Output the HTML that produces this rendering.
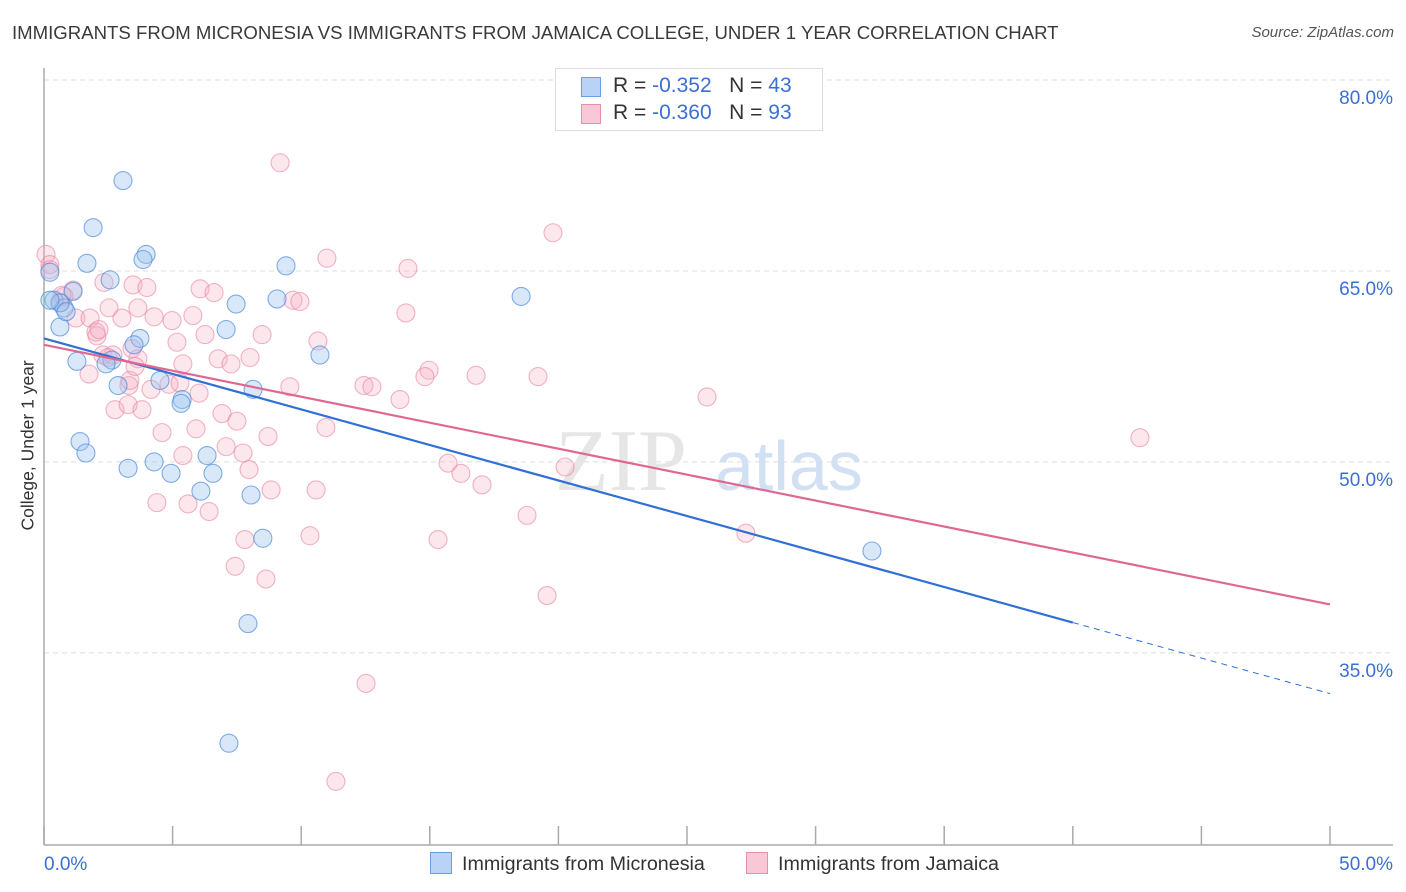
<!DOCTYPE html>
<html><head><meta charset="utf-8">
<style>
body{margin:0;background:#fff;font-family:"Liberation Sans",sans-serif;}
#wrap{position:relative;width:1406px;height:892px;overflow:hidden;}
.t{position:absolute;white-space:nowrap;}
</style></head><body>
<div id="wrap">
<div class="t" style="left:12px;top:22px;font-size:18.6px;color:#3a3a3a;">IMMIGRANTS FROM MICRONESIA VS IMMIGRANTS FROM JAMAICA COLLEGE, UNDER 1 YEAR CORRELATION CHART</div>
<div class="t" style="right:12px;top:24px;font-size:15px;color:#555;font-style:italic;">Source: ZipAtlas.com</div>
<div class="t" style="left:-47px;top:445px;font-size:17.5px;color:#333;transform:rotate(-90deg);transform-origin:center;width:150px;text-align:center;">College, Under 1 year</div>
<svg id="plot" width="1406" height="892" style="position:absolute;left:0;top:0"></svg>
</div>
<script>
const blueX=[3.07,1.91,3.97,3.85,1.67,2.57,9.41,0.23,0.39,1.13,0.78,9.06,7.47,18.55,0.62,7.08,3.73,3.50,2.64,1.28,2.41,10.73,2.88,4.51,8.13,5.37,5.33,1.40,1.63,3.27,4.28,4.94,6.34,6.57,6.10,8.05,8.51,32.19,7.93,7.19,0.62,0.86,0.23];
const blueY=[72.1,68.4,66.3,65.9,65.6,64.3,65.4,64.9,62.7,63.4,62.1,62.8,62.4,63.0,60.6,60.4,59.7,59.2,58.0,57.9,57.7,58.4,56.0,56.4,55.7,54.9,54.6,51.6,50.7,49.5,50.0,49.1,50.5,49.1,47.7,47.4,44.0,43.0,37.3,27.9,62.5,61.8,62.7];
const pinkX=[9.18,19.79,0.08,0.23,11.00,14.15,6.07,6.61,2.33,3.46,4.00,1.13,0.78,9.68,9.95,0.66,2.53,3.65,14.07,1.24,1.79,3.03,4.28,4.98,5.79,2.02,2.06,6.26,8.48,5.17,10.65,3.42,2.29,3.65,8.01,5.40,6.77,7.27,1.75,14.97,14.81,16.80,19.21,3.30,4.16,9.56,12.44,12.75,13.84,6.03,4.86,2.76,3.27,3.81,6.92,7.50,5.91,4.59,8.71,10.96,7.08,7.74,15.71,7.97,16.21,17.03,20.26,8.83,10.58,4.39,5.60,6.42,18.78,10.34,7.81,15.32,27.29,7.43,8.63,19.56,12.52,11.35,42.61,25.78,0.23,2.68,5.40,2.14,5.29,0.70,3.34,2.49,3.54];
const pinkY=[73.5,68.0,66.3,65.5,66.0,65.2,63.6,63.3,64.1,63.9,63.7,63.5,63.0,62.7,62.6,62.5,62.1,62.1,61.7,61.3,61.3,61.3,61.4,61.1,61.5,60.2,59.9,60.0,60.0,59.4,59.5,58.9,58.4,58.1,58.2,57.7,58.1,57.7,56.9,57.2,56.7,56.8,56.7,56.0,55.7,55.9,56.0,55.9,54.9,55.4,56.1,54.1,54.5,54.1,53.8,53.2,52.6,52.3,52.0,52.7,51.2,50.7,49.9,49.4,49.1,48.2,49.6,47.8,47.8,46.8,46.7,46.1,45.8,44.2,43.9,43.9,44.4,41.8,40.8,39.5,32.6,24.9,51.9,55.1,65.1,58.4,50.5,60.4,56.2,63.1,56.4,58.2,57.5];
const blueTrend=[59.7,31.8];
const pinkTrend=[59.2,38.8];
const blueSolidEnd=40;
const yTicks=[80,65,50,35];
const xTicks=[0,5,10,15,20,25,30,35,40,45,50];

const NS="http://www.w3.org/2000/svg";
const svg=document.getElementById('plot');
const X0=44,X1=1330;
const sx=v=>X0+(v/50)*(X1-X0);
const sy=v=>80+(80-v)*12.73;
function mk(tag,attrs){const e=document.createElementNS(NS,tag);for(const k in attrs)e.setAttribute(k,attrs[k]);svg.appendChild(e);return e;}

yTicks.forEach(t=>{
  const l=mk('line',{x1:X0,x2:1393,y1:sy(t),y2:sy(t),stroke:'#ddd','stroke-dasharray':'5,4'});
  
  
  const tx=mk('text',{x:1393,y:sy(t)+24,'text-anchor':'end','font-size':19,fill:'#3b6fd4','font-family':'Liberation Sans, sans-serif'});
  tx.textContent=t.toFixed(1)+'%';
  
  
});
mk('line',{x1:X0,x2:X0,y1:68,y2:845,stroke:'#aaa','stroke-width':1.5});
mk('line',{x1:X0,x2:1393,y1:845,y2:845,stroke:'#aaa','stroke-width':1.5});
xTicks.forEach(t=>{
  const l=mk('line',{x1:sx(t),x2:sx(t),y1:826,y2:845,stroke:'#aaa','stroke-width':1.5});
  
  
});
[[0,'start'],[50,'end']].forEach(([t,a])=>{
  const tx=mk('text',{x:a==='start'?sx(t):1393,y:870,'text-anchor':a,'font-size':19,fill:'#3b6fd4','font-family':'Liberation Sans, sans-serif'});
  tx.textContent=t.toFixed(1)+'%';
  
  
});
const wm=mk('text',{x:555,y:490,'font-size':88,fill:'#e6e6e6','font-family':'Liberation Serif, serif'});
wm.textContent='ZIP';


const wm2=mk('text',{x:715,y:490,'font-size':70,fill:'#d2e0f3','font-family':'Liberation Sans, sans-serif'});
wm2.textContent='atlas';



pinkX.forEach((x,i)=>{
  const c=mk('circle',{cx:sx(x),cy:sy(pinkY[i]),r:9,fill:'rgba(246,175,196,0.3)',stroke:'rgba(232,130,162,0.6)','stroke-width':1.1});
  
  
});
blueX.forEach((x,i)=>{
  const c=mk('circle',{cx:sx(x),cy:sy(blueY[i]),r:9,fill:'rgba(155,195,240,0.38)',stroke:'rgba(80,140,220,0.7)','stroke-width':1.1});
  
  
});
const by=x=>blueTrend[0]+(blueTrend[1]-blueTrend[0])*x/50;
const bl=mk('line',{x1:sx(0),y1:sy(by(0)),x2:sx(blueSolidEnd),y2:sy(by(blueSolidEnd)),stroke:'#2f6fd6','stroke-width':2.2});


const bd=mk('line',{x1:sx(blueSolidEnd),y1:sy(by(blueSolidEnd)),x2:sx(50),y2:sy(by(50)),stroke:'#2f6fd6','stroke-width':1,'stroke-dasharray':'6,5'});


const pl=mk('line',{x1:sx(0),y1:sy(pinkTrend[0]),x2:sx(50),y2:sy(pinkTrend[1]),stroke:'#e06890','stroke-width':2.2});


</script>
<div class="t" style="left:555px;top:68px;width:266px;height:61px;border:1px solid #ddd;background:#fff;font-size:21px;color:#333;">
  <div style="position:absolute;left:25px;top:8px;width:18px;height:18px;background:#b8d3f5;border:1px solid #6d9ee0;"></div>
  <div style="position:absolute;left:57px;top:5px;">R = <span style="color:#3b6fd4">-0.352</span>&nbsp;&nbsp;&nbsp;N = <span style="color:#3b6fd4">43</span></div>
  <div style="position:absolute;left:25px;top:35px;width:18px;height:18px;background:#f9c8d6;border:1px solid #e890aa;"></div>
  <div style="position:absolute;left:57px;top:32px;">R = <span style="color:#3b6fd4">-0.360</span>&nbsp;&nbsp;&nbsp;N = <span style="color:#3b6fd4">93</span></div>
</div>
<div class="t" style="left:430px;top:852px;font-size:19.7px;color:#333;"><span style="display:inline-block;width:20px;height:20px;background:#b8d3f5;border:1px solid #6d9ee0;vertical-align:-4px;margin-right:10px;"></span>Immigrants from Micronesia</div>
<div class="t" style="left:746px;top:852px;font-size:19.7px;color:#333;"><span style="display:inline-block;width:20px;height:20px;background:#f9c8d6;border:1px solid #e890aa;vertical-align:-4px;margin-right:10px;"></span>Immigrants from Jamaica</div>
</body></html>
